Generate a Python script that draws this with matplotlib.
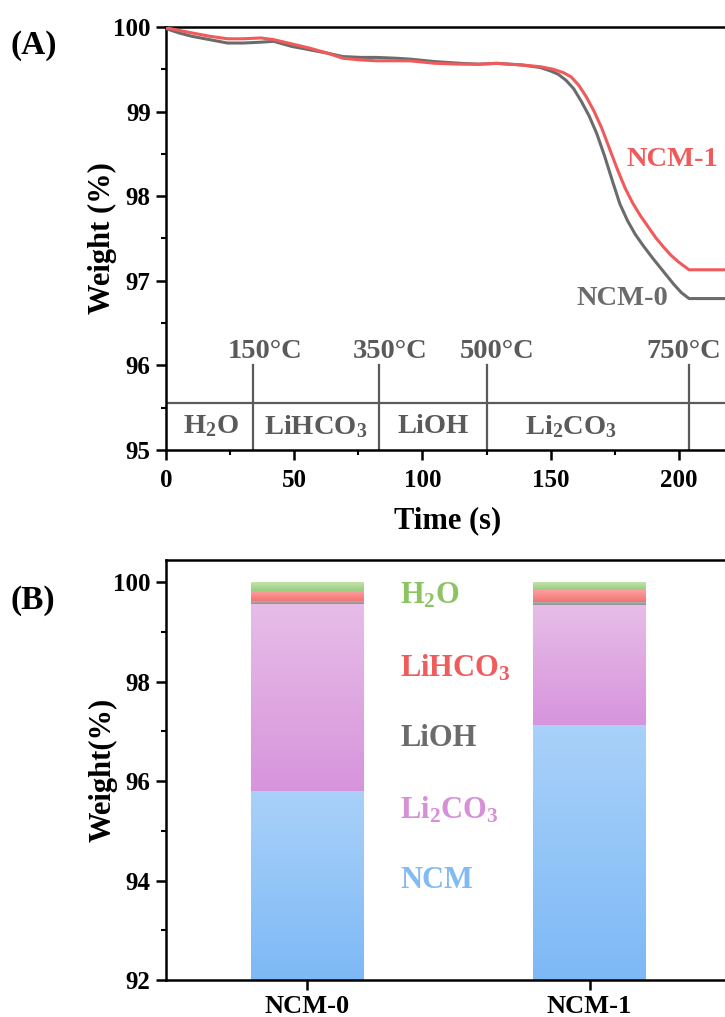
import numpy as np
import matplotlib
matplotlib.use('Agg')
import matplotlib.pyplot as plt
from matplotlib.colors import LinearSegmentedColormap
from matplotlib.ticker import MultipleLocator

plt.rcParams.update({
    "font.family": ["Liberation Serif", "DejaVu Serif"],
    "font.weight": "bold",
    "axes.labelweight": "bold",
    "mathtext.fontset": "custom",
    "mathtext.rm": "Liberation Serif:bold",
    "mathtext.it": "Liberation Serif:bold",
    "mathtext.bf": "Liberation Serif:bold",
    "mathtext.default": "rm",
    "axes.linewidth": 1.8,
    "xtick.direction": "out",
    "ytick.direction": "out",
    "xtick.major.width": 1.8,
    "ytick.major.width": 1.8,
    "xtick.minor.width": 1.5,
    "ytick.minor.width": 1.5,
    "xtick.major.size": 7,
    "ytick.major.size": 7,
    "xtick.minor.size": 3.5,
    "ytick.minor.size": 3.5,
    "xtick.labelsize": 18,
    "ytick.labelsize": 18,
})

# TGA curves, time (s) vs weight (%)
t_ncm0 = [0, 5, 10, 17, 24, 30, 37, 42, 49, 56, 63, 69, 76, 82, 90, 95, 105, 115,
          122, 129, 139, 146, 150, 153, 156, 159, 162, 165, 168, 171, 174, 177,
          180, 183, 186, 190, 194, 198, 201, 204, 210, 220]
w_ncm0 = [99.98, 99.93, 99.89, 99.85, 99.81, 99.81, 99.82, 99.83, 99.77, 99.73,
          99.69, 99.65, 99.64, 99.64, 99.63, 99.62, 99.59, 99.57, 99.56, 99.57,
          99.55, 99.52, 99.48, 99.44, 99.37, 99.27, 99.12, 98.95, 98.74, 98.48,
          98.19, 97.91, 97.71, 97.55, 97.42, 97.26, 97.11, 96.96, 96.86, 96.79,
          96.79, 96.79]
t_ncm1 = [0, 5, 10, 17, 24, 30, 37, 42, 49, 56, 63, 69, 76, 82, 90, 95, 105, 115,
          122, 129, 139, 146, 151, 155, 158, 161, 164, 167, 170, 173, 176, 179,
          182, 185, 188, 191, 194, 197, 200, 204, 210, 220]
w_ncm1 = [99.99, 99.96, 99.93, 99.89, 99.86, 99.86, 99.87, 99.85, 99.80, 99.75,
          99.69, 99.63, 99.61, 99.60, 99.60, 99.60, 99.57, 99.56, 99.56, 99.57,
          99.55, 99.53, 99.50, 99.46, 99.41, 99.31, 99.17, 99.00, 98.80, 98.56,
          98.32, 98.10, 97.92, 97.77, 97.64, 97.51, 97.40, 97.30, 97.22, 97.13,
          97.13, 97.13]

# decomposition stages
stage_times = [34, 83, 125, 204]
stage_temps = ['150°C', '350°C', '500°C', '750°C']
stage_names = [r'H$_2$O', r'LiHCO$_3$', 'LiOH', r'Li$_2$CO$_3$']

# composition of each sample (wt%)
samples = ['NCM-0', 'NCM-1']
ncm = [95.80, 97.13]
li2co3 = [3.77, 2.42]
lioh = [0.05, 0.05]
lihco3 = [0.21, 0.25]
h2o = [0.17, 0.15]

GRAY = '#6b6b6b'
RED = '#f05a5a'
LINE_GRAY = '#5a5a5a'


def gradient_bar(ax, x, bottom, height, width, c_top, c_bot):
    bar = ax.bar(x, height, width, bottom=bottom, color=c_bot, linewidth=0, zorder=2)[0]
    grad = np.linspace(0, 1, 256).reshape(-1, 1)
    cmap = LinearSegmentedColormap.from_list('seg', [c_bot, c_top])
    im = ax.imshow(grad, extent=[x - width / 2, x + width / 2, bottom, bottom + height],
                   origin='lower', cmap=cmap, aspect='auto', zorder=2.1,
                   interpolation='bilinear')
    im.set_clip_path(bar)


fig = plt.figure(figsize=(7.25, 10.17), dpi=100)

# ---------------- (A) TGA ----------------
ax1 = fig.add_axes([0.229, 0.5575, 0.778, 0.416])
ax1.plot(t_ncm0, w_ncm0, color=GRAY, lw=2.2, zorder=3)
ax1.plot(t_ncm1, w_ncm1, color=RED, lw=2.2, zorder=4)
ax1.set_xlim(0, 220)
ax1.set_ylim(95, 100)
ax1.xaxis.set_major_locator(MultipleLocator(50))
ax1.xaxis.set_minor_locator(MultipleLocator(25))
ax1.yaxis.set_major_locator(MultipleLocator(1))
ax1.yaxis.set_minor_locator(MultipleLocator(0.5))
ax1.spines['right'].set_visible(False)
ax1.tick_params(which='both', top=False, right=False)
ax1.tick_params(axis='x', pad=7)
ax1.tick_params(axis='y', pad=4)
ax1.set_xlabel('Time (s)', fontsize=22, labelpad=10)
ax1.set_ylabel('Weight (%)', fontsize=22, labelpad=-3)

ax1.axhline(95.55, color=LINE_GRAY, lw=1.6, zorder=2)
for ts in stage_times:
    ax1.plot([ts, ts], [95, 96], color=LINE_GRAY, lw=1.6, zorder=2)
temp_x = [24.0, 72.7, 114.4, 187.5]
for tx, lab in zip(temp_x, stage_temps):
    ax1.text(tx, 96.17, lab, color=LINE_GRAY, fontsize=20.5, ha='left', va='center')
name_x = [17.5, 58.5, 104, 158]
for nx, lab in zip(name_x, stage_names):
    ax1.text(nx, 95.28, lab, color=LINE_GRAY, fontsize=20.5, ha='center', va='center')

ax1.text(179.6, 98.43, 'NCM-1', color=RED, fontsize=20.5, ha='left', va='center')
ax1.text(160.1, 96.79, 'NCM-0', color=GRAY, fontsize=20.5, ha='left', va='center')
fig.text(0.015, 0.955, '(A)', fontsize=24, ha='left', va='center')

# ---------------- (B) composition ----------------
ax2 = fig.add_axes([0.229, 0.0364, 0.779, 0.413])
x = np.arange(len(samples))
width = 0.4
base = 92
segments = [
    (ncm, '#a9d1f9', '#7db9f6'),
    (li2co3, '#e7bde8', '#d794dc'),
    (lioh, '#b0b0b0', '#909090'),
    (lihco3, '#ffa3a3', '#f27474'),
    (h2o, '#c3e3ab', '#98cc7e'),
]
for i in range(len(samples)):
    bottom = base
    for k, (vals, c_top, c_bot) in enumerate(segments):
        top = vals[i] if k == 0 else bottom + vals[i]
        gradient_bar(ax2, x[i], bottom, top - bottom, width, c_top, c_bot)
        bottom = top

ax2.set_xlim(-0.5, 1.5)
ax2.set_ylim(92, 100.45)
ax2.set_xticks(x)
ax2.set_xticklabels(samples, fontsize=19)
ax2.yaxis.set_major_locator(MultipleLocator(2))
ax2.yaxis.set_minor_locator(MultipleLocator(1))
ax2.spines['right'].set_visible(False)
ax2.tick_params(which='both', top=False, right=False, pad=4)
ax2.set_ylabel('Weight(%)', fontsize=22, labelpad=-3)

legend_labels = [r'H$_2$O', r'LiHCO$_3$', 'LiOH', r'Li$_2$CO$_3$', 'NCM']
legend_colors = ['#8cc464', '#f05c5c', GRAY, '#d68fd8', '#82baf2']
legend_y = [99.72, 98.27, 96.85, 95.42, 94.01]
for lab, col, ly in zip(legend_labels, legend_colors, legend_y):
    ax2.text(0.33, ly, lab, color=col, fontsize=22, ha='left', va='center')
fig.text(0.015, 0.41, '(B)', fontsize=24, ha='left', va='center')

fig.savefig('out.png', dpi=100, facecolor='white')
